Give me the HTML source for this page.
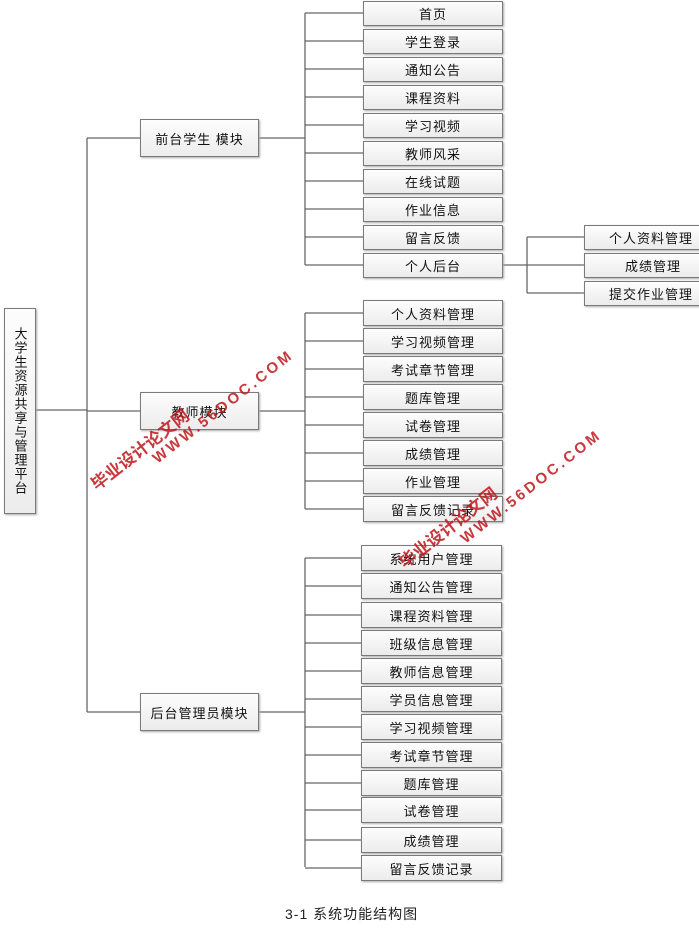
<!DOCTYPE html>
<html><head><meta charset="utf-8"><style>
body{margin:0;width:699px;height:933px;background:#fff;position:relative;overflow:hidden;font-family:"Liberation Sans","Noto Sans CJK SC",sans-serif;}
.b{position:absolute;box-sizing:border-box;border:1px solid #7a7a7a;background:linear-gradient(#fdfdfd,#ececec);box-shadow:1px 1px 2px #aaa;font-size:13px;color:#111;display:flex;align-items:center;justify-content:center;letter-spacing:1px;}
.wm{position:absolute;color:#c0161b;font-weight:bold;transform-origin:left bottom;white-space:nowrap;opacity:.85}
</style></head><body>
<svg width="699" height="933" style="position:absolute;left:0;top:0" stroke="#666" stroke-width="1.3" fill="none">
<path d="M36 410H87M87 138V712M87 138H140M87 411H140M87 712H140"/>
<path d="M259 138H305M305 13V265M259 411H305M305 313V509M259 712H305M305 558V867"/>
<path d="M305 13H363M305 41H363M305 69H363M305 97H363M305 125H363M305 153H363M305 181H363M305 209H363M305 237H363M305 265H363"/>
<path d="M503 265H527M527 237V293M527 237H584M527 265H584M527 293H584"/>
<path d="M305 313H363M305 341H363M305 369H363M305 397H363M305 425H363M305 453H363M305 481H363M305 509H363"/>
<path d="M305 558H361M305 586H361M305 615H361M305 643H361M305 671H361M305 699H361M305 727H361M305 755H361M305 783H361M305 810H361M305 840H361M305 868H361"/>
</svg>
<div class="b" style="left:4px;top:308px;width:32px;height:206px;writing-mode:vertical-rl;font-size:13px;letter-spacing:1px">大学生资源共享与管理平台</div>
<div class="b" style="left:140px;top:119px;width:119px;height:38px">前台学生 模块</div>
<div class="b" style="left:140px;top:392px;width:119px;height:38px">教师模块</div>
<div class="b" style="left:140px;top:693px;width:119px;height:38px">后台管理员模块</div>

<div class="b" style="left:363px;top:1px;width:140px;height:25px">首页</div>
<div class="b" style="left:363px;top:29px;width:140px;height:25px">学生登录</div>
<div class="b" style="left:363px;top:57px;width:140px;height:25px">通知公告</div>
<div class="b" style="left:363px;top:85px;width:140px;height:25px">课程资料</div>
<div class="b" style="left:363px;top:113px;width:140px;height:25px">学习视频</div>
<div class="b" style="left:363px;top:141px;width:140px;height:25px">教师风采</div>
<div class="b" style="left:363px;top:169px;width:140px;height:25px">在线试题</div>
<div class="b" style="left:363px;top:197px;width:140px;height:25px">作业信息</div>
<div class="b" style="left:363px;top:225px;width:140px;height:25px">留言反馈</div>
<div class="b" style="left:363px;top:253px;width:140px;height:25px">个人后台</div>

<div class="b" style="left:584px;top:225px;width:118px;height:25px;justify-content:flex-end;padding-right:8px">个人资料管理</div>
<div class="b" style="left:584px;top:253px;width:118px;height:25px;justify-content:flex-end;padding-right:20px">成绩管理</div>
<div class="b" style="left:584px;top:281px;width:118px;height:25px;justify-content:flex-end;padding-right:8px">提交作业管理</div>

<div class="b" style="left:363px;top:300px;width:140px;height:26px">个人资料管理</div>
<div class="b" style="left:363px;top:328px;width:140px;height:26px">学习视频管理</div>
<div class="b" style="left:363px;top:356px;width:140px;height:26px">考试章节管理</div>
<div class="b" style="left:363px;top:384px;width:140px;height:26px">题库管理</div>
<div class="b" style="left:363px;top:412px;width:140px;height:26px">试卷管理</div>
<div class="b" style="left:363px;top:440px;width:140px;height:26px">成绩管理</div>
<div class="b" style="left:363px;top:468px;width:140px;height:26px">作业管理</div>
<div class="b" style="left:363px;top:496px;width:140px;height:26px">留言反馈记录</div>

<div class="b" style="left:361px;top:545px;width:141px;height:26px">系统用户管理</div>
<div class="b" style="left:361px;top:573px;width:141px;height:26px">通知公告管理</div>
<div class="b" style="left:361px;top:602px;width:141px;height:26px">课程资料管理</div>
<div class="b" style="left:361px;top:630px;width:141px;height:26px">班级信息管理</div>
<div class="b" style="left:361px;top:658px;width:141px;height:26px">教师信息管理</div>
<div class="b" style="left:361px;top:686px;width:141px;height:26px">学员信息管理</div>
<div class="b" style="left:361px;top:714px;width:141px;height:26px">学习视频管理</div>
<div class="b" style="left:361px;top:742px;width:141px;height:26px">考试章节管理</div>
<div class="b" style="left:361px;top:770px;width:141px;height:26px">题库管理</div>
<div class="b" style="left:361px;top:797px;width:141px;height:26px">试卷管理</div>
<div class="b" style="left:361px;top:827px;width:141px;height:26px">成绩管理</div>
<div class="b" style="left:361px;top:855px;width:141px;height:26px">留言反馈记录</div>

<div style="position:absolute;left:285px;top:904px;font-size:14px;color:#222;letter-spacing:1px">3-1 系统功能结构图</div>

<div class="wm" style="left:100px;top:470px;font-size:17px;transform:rotate(-38deg)">毕业设计论文网</div>
<div class="wm" style="left:160px;top:450px;font-size:15px;letter-spacing:3px;transform:rotate(-38deg)">WWW.56DOC.COM</div>
<div class="wm" style="left:408px;top:548px;font-size:17px;transform:rotate(-38deg)">毕业设计论文网</div>
<div class="wm" style="left:468px;top:530px;font-size:15px;letter-spacing:3px;transform:rotate(-38deg)">WWW.56DOC.COM</div>
</body></html>
